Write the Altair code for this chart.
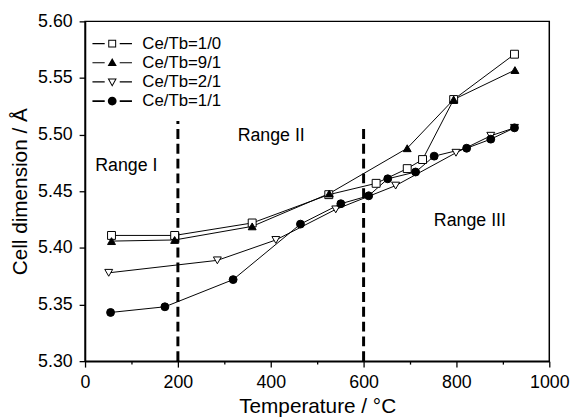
import altair as alt
import pandas as pd

FONT = "Liberation Sans"

series = ["Ce/Tb=1/0", "Ce/Tb=9/1", "Ce/Tb=2/1", "Ce/Tb=1/1"]

t_10 = [57, 193, 360, 525, 627, 694, 727, 794, 925]
v_10 = [5.411, 5.411, 5.422, 5.447, 5.457, 5.470, 5.478, 5.531, 5.571]

t_91 = [57, 193, 360, 526, 694, 794, 926]
v_91 = [5.406, 5.407, 5.419, 5.448, 5.488, 5.531, 5.557]

t_21 = [51, 285, 411, 540, 669, 799, 874, 925]
v_21 = [5.378, 5.389, 5.407, 5.434, 5.455, 5.484, 5.499, 5.506]

t_11 = [55, 172, 319, 464, 551, 611, 652, 712, 752, 822, 874, 925]
v_11 = [5.343, 5.348, 5.372, 5.421, 5.439, 5.446, 5.461, 5.467, 5.481, 5.488, 5.496, 5.506]

range_bounds = [200, 600]
range_tops = [5.512, 5.507]
range_labels = ["Range I", "Range II", "Range III"]
range_label_t = [89, 401, 829]
range_label_v = [5.4726, 5.4988, 5.424]

rows = []
for name, ts, vs in zip(series, [t_10, t_91, t_21, t_11], [v_10, v_91, v_21, v_11]):
    for t, v in zip(ts, vs):
        rows.append({"T": t, "v": v, "series": name})
df = pd.DataFrame(rows)

df_rules = pd.DataFrame({"T": range_bounds, "v0": [5.30, 5.30], "v1": range_tops})
df_text = pd.DataFrame({"T": range_label_t, "v": range_label_v, "label": range_labels})

x_vals = list(range(0, 1001, 100))
y_vals = [round(5.30 + 0.025 * i, 3) for i in range(13)]

x_axis = alt.Axis(
    values=x_vals,
    labelExpr="datum.value % 200 == 0 ? datum.value : ''",
    tickSize={"condition": {"test": "datum.value % 200 == 0", "value": 6}, "value": 3},
    labelFlush=False,
    grid=False,
)
y_axis = alt.Axis(
    values=y_vals,
    labelExpr="round(datum.value*40) % 2 == 0 ? format(datum.value, '.2f') : ''",
    tickSize={"condition": {"test": "round(datum.value*40) % 2 == 0", "value": 6}, "value": 3},
    grid=False,
)

x = alt.X("T:Q", scale=alt.Scale(domain=[0, 1000], nice=False, zero=False), axis=x_axis,
          title="Temperature / °C")
y = alt.Y("v:Q", scale=alt.Scale(domain=[5.30, 5.60], nice=False, zero=False), axis=y_axis,
          title="Cell dimension / Å")

base = alt.Chart(df)

lines = base.mark_line(color="black", strokeWidth=1).encode(
    x=x, y=y, detail="series:N", order="T:Q"
)

points = base.mark_point(filled=True, stroke="black", strokeWidth=1, size=64, opacity=1).encode(
    x=x, y=y,
    shape=alt.Shape("series:N", scale=alt.Scale(domain=series,
                    range=["square", "triangle-up", "triangle-down", "circle"]), legend=None),
    fill=alt.Fill("series:N", scale=alt.Scale(domain=series,
                  range=["white", "black", "white", "black"]), legend=None),
)

# legend glyphs: line segments + marker, all drawn as filled outlines (open markers via holes)
seg = "M-2.5,-0.07H-0.95V0.07H-2.5ZM0.95,-0.07H2.5V0.07H0.95Z"
seg_thick = "M-2.5,-0.11H-0.95V0.11H-2.5ZM0.95,-0.11H2.5V0.11H0.95Z"
leg_shapes = [
    seg + "M-0.5,-0.5H0.5V0.5H-0.5ZM-0.375,-0.375V0.375H0.375V-0.375Z",
    seg + "M0,-0.6L0.58,0.42H-0.58Z",
    seg + "M0,0.6L0.58,-0.42H-0.58ZM0,0.347L-0.365,-0.295H0.365Z",
    seg_thick + "M-0.56,0A0.56,0.56 0 1,0 0.56,0A0.56,0.56 0 1,0 -0.56,0Z",
]
legend_layer = base.mark_point(filled=True, color="black", size=256, opacity=1).encode(
    x=x, y=y,
    shape=alt.Shape("series:N", scale=alt.Scale(domain=series, range=leg_shapes),
                    legend=alt.Legend(
                        title=None, orient="none", legendX=19, legendY=14, padding=0,
                        symbolSize=256, symbolStrokeWidth=0, symbolFillColor="black",
                        labelFont=FONT, labelFontSize=17, labelColor="black", labelOffset=22,
                        rowPadding=1.4, symbolOpacity=1,
                    )),
).transform_filter("false")

rules = alt.Chart(df_rules).mark_rule(color="black", strokeWidth=3, strokeDash=[10, 5]).encode(
    x="T:Q", y="v0:Q", y2="v1:Q"
)

texts = alt.Chart(df_text).mark_text(font=FONT, fontSize=18, color="black").encode(
    x="T:Q", y="v:Q", text="label:N"
)

chart = alt.layer(lines, rules, points, legend_layer, texts).resolve_scale(
    shape="independent"
).properties(
    width=470, height=344,
    autosize=alt.AutoSizeParams(type="none"),
    padding={"left": 78, "top": 11, "right": 24, "bottom": 54},
).configure_view(
    stroke="black", strokeWidth=1.5
).configure_axis(
    domainColor="black", domainWidth=1.5, tickColor="black", tickWidth=1.3,
    labelFont=FONT, labelFontSize=18, labelColor="black", labelPadding=7,
    titleFont=FONT, titleFontSize=21, titleColor="black", titleFontWeight="normal",
).configure_axisY(titlePadding=7).configure_axisX(titlePadding=4)

chart.save("out.html", embed_options={"renderer": "svg", "actions": False})
